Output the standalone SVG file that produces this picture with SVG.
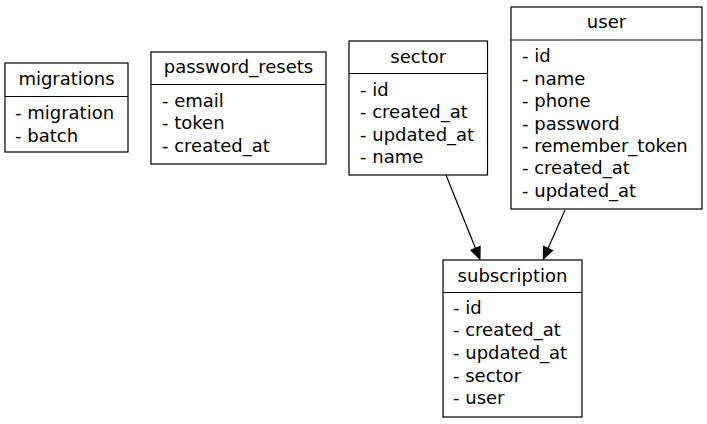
<svg xmlns="http://www.w3.org/2000/svg" width="707" height="424" viewBox="0 0 707 424">
<style>
.box{fill:#fff;stroke:#000;stroke-width:1.2}
.div{stroke:#000;stroke-width:1.2}
text{font-family:"DejaVu Sans","Liberation Sans",sans-serif;font-size:18px;fill:#000}
.t{text-anchor:middle}
.edge{stroke:#000;stroke-width:1.2;fill:none}
</style>
<defs>
<marker id="arr" markerUnits="userSpaceOnUse" markerWidth="13" markerHeight="11" refX="0" refY="5" orient="auto" viewBox="0 0 13 10" overflow="visible">
<path d="M0,0 L12,5 L0,10 z" fill="#000" stroke="#000" stroke-width="1"/>
</marker>
</defs>
<rect width="707" height="424" fill="#fff"/>
<g id="connectors">
<line class="edge" x1="446" y1="175" x2="475.5" y2="248.2" marker-end="url(#arr)"/>
<line class="edge" x1="565" y1="210" x2="548.1" y2="248.3" marker-end="url(#arr)"/>
</g>
<g id="migrations">
<rect class="box" x="5" y="63" width="123" height="89"/>
<line class="div" x1="5" y1="96.5" x2="128" y2="96.5"/>
<text class="t" x="66.5" y="85">migrations</text>
<text x="15" y="119">- migration</text>
<text x="15" y="141.5">- batch</text>
</g>
<g id="password_resets">
<rect class="box" x="151" y="52" width="175" height="112"/>
<line class="div" x1="151" y1="84.5" x2="326" y2="84.5"/>
<text class="t" x="238.5" y="73.3">password_resets</text>
<text x="162" y="106.7">- email</text>
<text x="162" y="129.2">- token</text>
<text x="162" y="151.7">- created_at</text>
</g>
<g id="sector">
<rect class="box" x="349" y="41" width="138.5" height="134"/>
<line class="div" x1="349" y1="73.5" x2="487.5" y2="73.5"/>
<text class="t" x="418.2" y="63.3">sector</text>
<text x="360" y="95.7">- id</text>
<text x="360" y="118.2">- created_at</text>
<text x="360" y="140.7">- updated_at</text>
<text x="360" y="163.2">- name</text>
</g>
<g id="user">
<rect class="box" x="511" y="7" width="191" height="202"/>
<line class="div" x1="511" y1="40" x2="702" y2="40"/>
<text class="t" x="606.5" y="28.3">user</text>
<text x="522" y="62.3">- id</text>
<text x="522" y="84.7">- name</text>
<text x="522" y="107.1">- phone</text>
<text x="522" y="129.5">- password</text>
<text x="522" y="151.9">- remember_token</text>
<text x="522" y="174.3">- created_at</text>
<text x="522" y="196.7">- updated_at</text>
</g>
<g id="subscription">
<rect class="box" x="443" y="260" width="139" height="157"/>
<line class="div" x1="443" y1="292.5" x2="582" y2="292.5"/>
<text class="t" x="512.5" y="281.7">subscription</text>
<text x="453" y="313.7">- id</text>
<text x="453" y="336.3">- created_at</text>
<text x="453" y="358.9">- updated_at</text>
<text x="453" y="381.5">- sector</text>
<text x="453" y="404">- user</text>
</g>
</svg>
